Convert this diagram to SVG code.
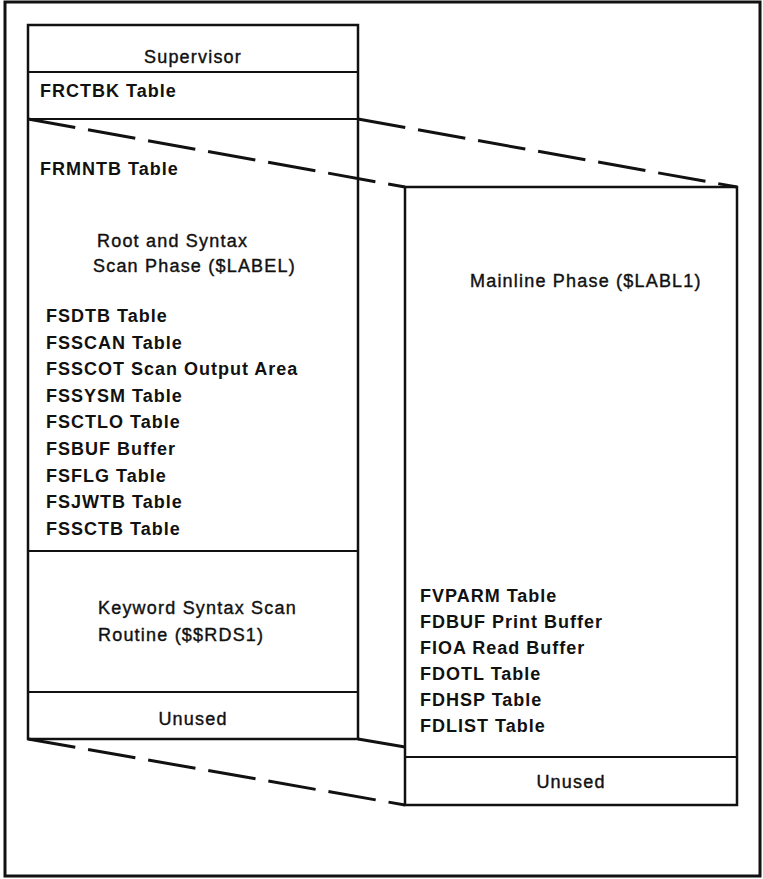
<svg xmlns="http://www.w3.org/2000/svg" width="763" height="879" viewBox="0 0 763 879">
<style>
.box{fill:none;stroke:#111;stroke-width:2.5}
.div{stroke:#111;stroke-width:2}
.dash{fill:none;stroke:#111;stroke-width:3;stroke-dasharray:48 13}
.solid{fill:none;stroke:#111;stroke-width:3}
text{font-family:"Liberation Sans",Arial,sans-serif;font-size:18px;fill:#111}
.b{font-weight:bold;letter-spacing:1px}
.r{letter-spacing:1.2px;stroke:#111;stroke-width:0.4}
.m{text-anchor:middle}
</style>
<rect width="763" height="879" fill="#fff"/>
<rect x="5" y="2" width="755" height="874" fill="none" stroke="#111" stroke-width="3"/>
<g id="connectors">
<line class="dash" x1="358" y1="119" x2="737" y2="187"/>
<line class="dash" x1="28" y1="119" x2="405" y2="187"/>
<line class="dash" x1="28" y1="739" x2="405" y2="805"/>
<line class="solid" x1="358" y1="739" x2="405" y2="747"/>
</g>
<g id="left-memory">
<rect class="box" x="28" y="25" width="330" height="714"/>
<line class="div" x1="28" y1="72" x2="358" y2="72"/>
<line class="div" x1="28" y1="119" x2="358" y2="119"/>
<line class="div" x1="28" y1="551" x2="358" y2="551"/>
<line class="div" x1="28" y1="692" x2="358" y2="692"/>
<text class="r m" x="193" y="63">Supervisor</text>
<text class="b" x="40" y="97">FRCTBK Table</text>
<text class="b" x="40" y="175">FRMNTB Table</text>
<text class="r" x="97" y="247">Root and Syntax</text>
<text class="r" x="93" y="272">Scan Phase ($LABEL)</text>
<text class="b" x="46" y="322">FSDTB Table</text>
<text class="b" x="46" y="348.6">FSSCAN Table</text>
<text class="b" x="46" y="375.2">FSSCOT Scan Output Area</text>
<text class="b" x="46" y="401.8">FSSYSM Table</text>
<text class="b" x="46" y="428.4">FSCTLO Table</text>
<text class="b" x="46" y="455">FSBUF Buffer</text>
<text class="b" x="46" y="481.6">FSFLG Table</text>
<text class="b" x="46" y="508.2">FSJWTB Table</text>
<text class="b" x="46" y="534.8">FSSCTB Table</text>
<text class="r" x="98" y="614">Keyword Syntax Scan</text>
<text class="r" x="98" y="641">Routine ($$RDS1)</text>
<text class="r m" x="193" y="725">Unused</text>
</g>
<g id="right-memory">
<rect class="box" x="405" y="187" width="332" height="618"/>
<line class="div" x1="405" y1="757" x2="737" y2="757"/>
<text class="r" x="470" y="287">Mainline Phase ($LABL1)</text>
<text class="b" x="420" y="602">FVPARM Table</text>
<text class="b" x="420" y="628">FDBUF Print Buffer</text>
<text class="b" x="420" y="654">FIOA Read Buffer</text>
<text class="b" x="420" y="680">FDOTL Table</text>
<text class="b" x="420" y="706">FDHSP Table</text>
<text class="b" x="420" y="732">FDLIST Table</text>
<text class="r m" x="571" y="788">Unused</text>
</g>
</svg>
